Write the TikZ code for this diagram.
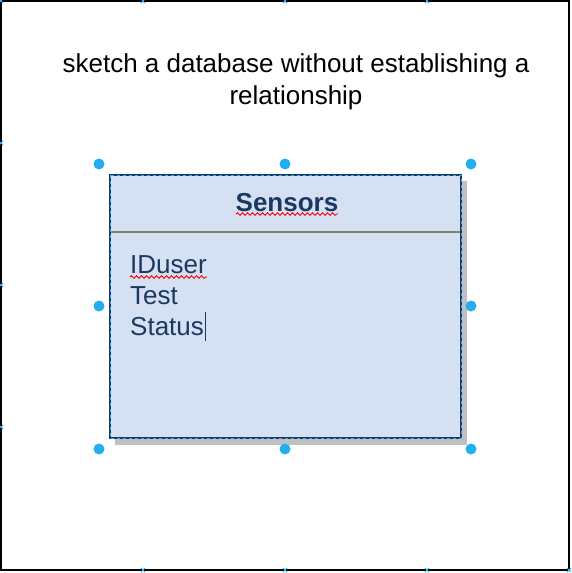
\documentclass[tikz,border=0pt]{standalone}
\usepackage{fontspec}
\setmainfont{Liberation Sans}
\usetikzlibrary{calc,decorations.pathmorphing}
\definecolor{navy}{RGB}{28,56,98}
\definecolor{boxfill}{RGB}{213,225,243}
\definecolor{handle}{RGB}{36,174,240}
\definecolor{shadowgray}{RGB}{192,192,192}
\tikzset{
  handledot/.style={fill=handle, draw=none},
  spell/.style={draw=red, line width=0.9pt, decorate, decoration={snake, amplitude=1.3pt, segment length=5pt}},
  xmark/.style={draw=handle, line width=0.8pt},
  entry/.style={anchor=base west, inner sep=0pt, text=navy, font=\fontsize{26}{31}\selectfont}
}
\begin{document}
\begin{tikzpicture}[x=1pt, y=-1pt]
\useasboundingbox (0,0) rectangle (571,573);
\fill[white] (0,0) rectangle (571,573);

% outer frame
\draw[line width=1.6pt] (1,1) rectangle (569,570);
\foreach \x/\y in {1/1,143/1,285/1,427/1,1/143,1/285,1/427,569/570,143/570,285/570,427/570}{
  \draw[xmark] (\x-2,\y-2) -- (\x+2,\y+2) (\x-2,\y+2) -- (\x+2,\y-2);
}

% title
\node[anchor=base, inner sep=0pt, align=center, font=\fontsize{26}{32}\selectfont] (title) at (296,104)
  {sketch a database without establishing a\\relationship};

% table
\fill[shadowgray] (115,181) rectangle (467,445);
\fill[boxfill] (110,175) rectangle (461,438);
\draw[gray, line width=1.4pt] (111,232) -- (460,232);
\draw[white!75!gray, line width=0.8pt] (111,234) -- (460,234);
\draw[navy, line width=2pt] (110,175) rectangle (461,438);
\draw[handle, line width=1pt, dash pattern=on 3pt off 3pt] (110,175) rectangle (461,438);

\node[anchor=base, inner sep=0pt, text=navy, font=\fontsize{26}{31}\selectfont\bfseries] (name) at (287,211) {Sensors};
\draw[spell] (236,214) -- (338,214);

\node[entry] (f1) at (130,273) {IDuser};
\draw[spell] (130,277) -- (207,277);
\node[entry] (f2) at (130,304) {Test};
\node[entry] (f3) at (130,335) {Status};
\draw[navy, line width=1pt] (f3.base east) ++(1,6) coordinate (c1) -- ++(0,-29) coordinate (c2);

% selection handles
\foreach \x/\y in {99/164,285/164,471/164,99/306,471/306,99/449,285/449,471/449}
  \fill[handledot] (\x,\y) circle (5.5);
\end{tikzpicture}
\end{document}
